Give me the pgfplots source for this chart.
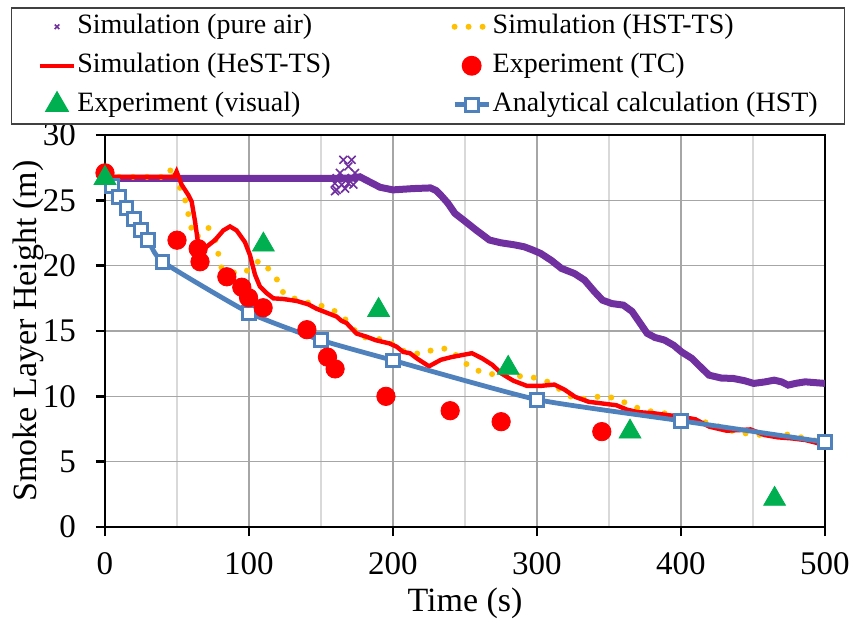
\documentclass[border=0pt]{standalone}
\usepackage{fontspec}
\setmainfont{Liberation Serif}
\usepackage{pgfplots}
\pgfplotsset{compat=1.18}
\definecolor{cpurple}{HTML}{7030A0}
\definecolor{corange}{HTML}{FFC000}
\definecolor{cred}{HTML}{FF0000}
\definecolor{cgreen}{HTML}{00B050}
\definecolor{cblue}{HTML}{4F81BD}
\definecolor{gridmaj}{HTML}{A6A6A6}
\definecolor{gridmin}{HTML}{D9D9D9}
\pgfplotsset{bluestyle/.style={cblue, line width=2.4pt, mark=square*, mark size=3.2pt,
  mark options={draw=cblue, fill=white, line width=1.5pt}}}
\begin{document}
\begin{tikzpicture}
\useasboundingbox (-52.5pt,-47.5pt) rectangle (375.5pt,263.5pt);
\begin{axis}[
  at={(0pt,0pt)}, anchor=south west,
  scale only axis, width=360pt, height=196pt,
  xmin=0, xmax=500, ymin=0, ymax=30,
  xtick={0,100,...,500}, minor xtick={50,150,...,450},
  ytick={0,5,...,30},
  grid=both,
  major grid style={color=gridmaj, line width=0.75pt},
  minor grid style={color=gridmin, line width=0.75pt},
  tick pos=left, tick align=outside,
  major tick length=4.5pt, minor tick length=0pt,
  every tick/.style={black, line width=1.2pt},
  axis line style={black, line width=1.4pt},
  tick label style={font=\fontsize{16.5}{18}\selectfont},
  label style={font=\fontsize{17}{20}\selectfont},
  /pgf/number format/assume math mode=true,
  xticklabel style={yshift=-4.5pt},
  yticklabel style={xshift=-6.5pt},
  xlabel={Time (s)}, ylabel={Smoke Layer Height (m)},
  xlabel style={at={(axis description cs:0.5,-0.2168)}, anchor=base},
  ylabel style={at={(axis description cs:-0.0958,0.5)}, anchor=base},
  legend columns=2,
  legend cell align=left,
  legend style={
    at={(0,1)}, anchor=north west, xshift=-47pt, yshift=64pt,
    draw=black!75, line width=0.75pt, fill=white,
    font=\fontsize{14}{16}\selectfont,
    inner xsep=13pt, inner ysep=2pt,
    nodes={inner xsep=0.5pt, inner ysep=1pt, text height=10pt, text depth=3pt},
    row sep=4.5pt,
    /tikz/column 2/.style={column sep=60pt},
  },
]
% pure air (dense markers drawn as a thick line)
\addplot[cpurple, line width=3.5pt, forget plot] coordinates {
(0,26.68) (158,26.68) (172,26.7) (177,26.8) (184,26.4) (191,26.0) (200,25.8)
(214,25.9) (226,25.95) (230,25.75) (234,25.3) (238,24.8) (243,24.0) (250,23.4) (258,22.7)
(267,21.96) (275,21.75) (284,21.6) (291,21.45) (297,21.2) (302.5,20.94) (310,20.4)
(317,19.79) (326,19.4) (333,18.9) (340,18.0) (345.5,17.36) (352,17.1) (360,16.98)
(366,16.5) (371,15.7) (376.5,14.82) (382,14.5) (388.5,14.31) (395,13.9) (400.4,13.4)
(407.6,12.9) (414,12.2) (419.5,11.62) (428,11.4) (436.2,11.37) (444,11.2) (450.5,10.99)
(458,11.1) (464.8,11.24) (470,11.1) (474.4,10.86) (480,11.0) (486.3,11.11) (493,11.05) (500,10.99)
};
\addplot[only marks, mark=x, mark size=2.8pt, mark options={cpurple, line width=0.8pt},
  legend image code/.code={\draw[cpurple, line width=0.6pt] plot[mark=x, mark size=1.6pt] coordinates {(0.3cm,0cm)};}]
coordinates {
(165.5,28.1) (171.3,28.1) (169,27.6) (163.2,27.1) (173.6,27.1) (160.9,26.7) (166.7,26.7)
(171.3,26.7) (159.7,26.3) (164.4,26.2) (169,26.3) (172.5,26.2) (160.9,25.8) (166.7,25.9) (159.7,25.7)
};
\addlegendentry{Simulation (pure air)}
% HST-TS (round dot line)
\addplot[corange, line width=3pt, line cap=round, dash pattern=on 0pt off 7pt] coordinates {
(0,26.8) (44,26.8) (46.3,27.6) (48.6,26.4) (54.4,25.65) (56.7,24.5) (59,23.4) (61.3,22.2)
(66,22.3) (71.8,22.9) (76.4,22.1) (78.7,20.9) (81,19.8) (88,19.5) (96,19.4) (100.7,19.8)
(107.2,20.4) (114.1,19.7) (120.4,18.8) (124.3,17.8) (133.6,17.4) (143.5,17.1) (153,16.86)
(162.9,16.35) (170,15.53) (177,14.56) (186.8,14.43) (196.3,14.3) (204.7,13.54) (218.9,13.23)
(228.5,13.59) (238.5,13.67) (247,12.83) (254.8,12.14) (264.3,11.76) (273.9,11.64) (284.6,11.56)
(295.4,11.51) (300.1,11.35) (309.7,11.04) (318.8,10.28) (327.6,9.72) (337.8,9.92) (347.9,10.03)
(357.4,9.72) (367,9.21) (376.5,8.9) (388.5,8.7) (399.2,8.44) (411.2,8.06) (420.7,7.98) (429,7.55)
(440.5,7.21) (450.5,7.11) (461.3,6.96) (472,7.11) (481.6,6.91) (491.2,6.65) (500,6.5)
};
\addlegendentry{Simulation (HST-TS)}
% HeST-TS
\addplot[cred, line width=2.2pt] coordinates {
(0,26.8) (48,26.8) (49.7,27.2) (53.2,26.2) (57.9,25.4) (60.2,24.9) (62.5,23.4) (64.8,21.6)
(70.6,21.45) (76.4,21.96) (82.2,22.7) (86.8,23.0) (91.4,22.7) (97.2,21.8) (100.7,20.8)
(104.2,19.3) (107.6,18.4) (112.3,17.9) (116.9,17.5) (123.8,17.45) (133.1,17.3) (141.2,17.04)
(147,16.7) (160.9,16.1) (164,15.8) (167.8,15.6) (171.2,15.2) (174.8,14.8) (181.7,14.56)
(187.9,14.3) (197.5,14.05) (202.5,13.8) (207,13.4) (211.8,13.3) (216.6,12.9) (225,12.3)
(233.3,12.8) (240.5,13.0) (247.6,13.15) (254.8,13.3) (262,12.9) (269.1,12.4) (275.1,11.76)
(283.5,11.2) (293,10.8) (302.6,10.8) (312.1,10.9) (319.3,10.5) (326.5,9.96) (336,9.58)
(345.6,9.45) (355.1,9.32) (362.3,8.99) (369.5,8.8) (381.4,8.7) (391,8.56) (400.5,8.44)
(410.1,8.24) (419.6,7.68) (431.6,7.37) (441.2,7.42) (448.3,7.47) (457.9,7.04) (467.4,6.86)
(477,6.78) (486.6,6.65) (493.8,6.45) (500,6.2)
};
\addlegendentry{Simulation (HeST-TS)}
% Analytical (drawn here, legend entry added last)
\addplot[bluestyle, smooth, tension=0.3, forget plot] coordinates {
(0,26.9) (5,26.1) (10,25.25) (15,24.4) (20,23.6) (25,22.75) (30,21.95) (40,20.3)
(100,16.4) (150,14.3) (200,12.75) (300,9.75) (400,8.13) (500,6.5)
};
% Experiment TC
\addplot[only marks, mark=*, mark size=4.6pt, mark options={draw=cred, fill=cred}] coordinates {
(0,27.1) (50,21.95) (64.7,21.3) (66,20.3) (84.6,19.15) (95,18.35) (99.7,17.55) (109.8,16.78)
(140.2,15.1) (154.5,13.0) (159.8,12.1) (195.1,10.0) (239.7,8.9) (275.1,8.06) (345,7.3)
};
\addlegendentry{Experiment (TC)}
% Experiment visual
\addplot[only marks, mark=triangle*, mark size=6.3pt, mark options={draw=cgreen, fill=cgreen}] coordinates {
(0,26.7) (110,21.6) (190,16.6) (280,12.17) (364.6,7.29) (465,2.14)
};
\addlegendentry{Experiment (visual)}
\addlegendimage{bluestyle}
\addlegendentry{Analytical calculation (HST)}
\end{axis}
\end{tikzpicture}
\end{document}
